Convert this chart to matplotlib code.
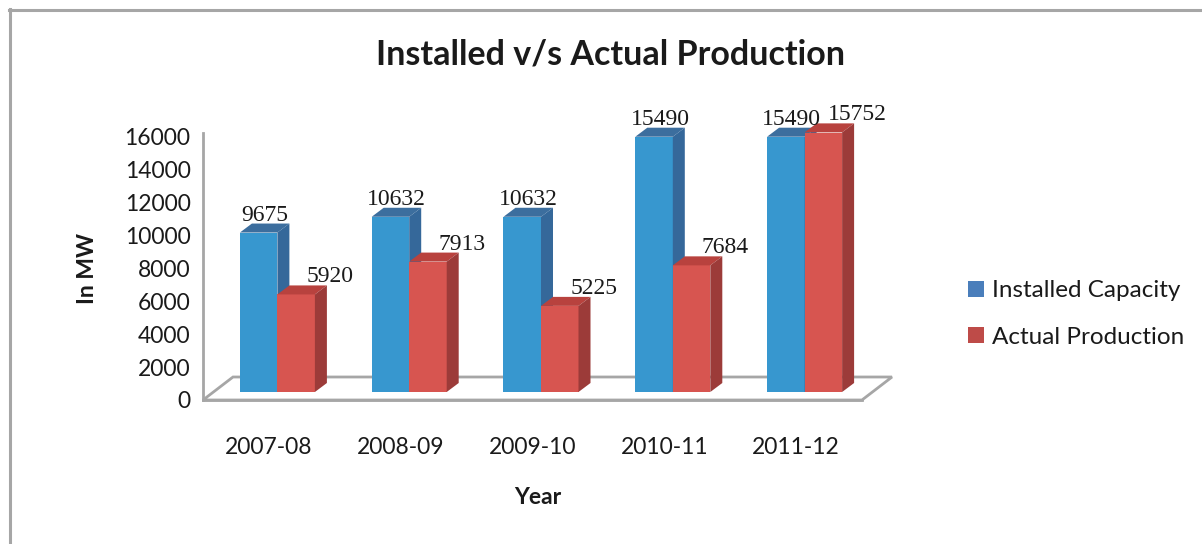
import matplotlib.pyplot as plt
from matplotlib.patches import Polygon, Patch
from matplotlib.lines import Line2D

# dane
years = ['2007-08', '2008-09', '2009-10', '2010-11', '2011-12']
installed = [9675, 10632, 10632, 15490, 15490]
actual = [5920, 7913, 5225, 7684, 15752]
series_names = ['Installed Capacity', 'Actual Production']
yticks = [0, 2000, 4000, 6000, 8000, 10000, 12000, 14000, 16000]

SANS = ['Lato', 'DejaVu Sans']
SERIF = ['Liberation Serif', 'DejaVu Serif']
plt.rcParams['font.family'] = SANS

W, H = 1202, 544
fig = plt.figure(figsize=(W / 100, H / 100), dpi=100)
ax = fig.add_axes([203 / W, (H - 400) / H, 659 / W, 267 / H])
ax.set_xlim(-0.5, len(years) - 0.5)
ax.set_ylim(0, 16200)

# przeliczenie pikseli na jednostki danych
ux = (len(years)) / ax.bbox.width
uy = 16200 / ax.bbox.height

grey = '#a6a6a6'
for s in ['top', 'right']:
    ax.spines[s].set_visible(False)
for s in ['left', 'bottom']:
    ax.spines[s].set_color(grey)
    ax.spines[s].set_linewidth(2)

# podloga 3D
fdx, fdy = 30 * ux, 23 * uy
x0, x1 = ax.get_xlim()
floor = Polygon([(x0, 0), (x0 + fdx, fdy), (x1 + fdx, fdy), (x1, 0)],
                closed=True, facecolor='white', edgecolor=grey, lw=2,
                clip_on=False, zorder=1)
ax.add_patch(floor)

# slupki 3D
bw = 37.5 * ux
sx = 8.5 * ux
base = 8 * uy
ddx, ddy = 12 * ux, 9 * uy
front_cols = ['#3797cf', '#d75550']
top_cols = ['#3c6e9e', '#b8423e']
side_cols = ['#35689a', '#9c3b39']
label_dx = [6, 34]

for i in range(len(years)):
    for s, vals in enumerate([installed, actual]):
        v = vals[i]
        left = i + sx - bw + s * bw
        right = left + bw
        top = base + v
        z = 3 + s
        ax.bar(left, v, width=bw, bottom=base, align='edge',
               color=front_cols[s], zorder=z, lw=0)
        ax.add_patch(Polygon([(left, top), (right, top), (right + ddx, top + ddy),
                              (left + ddx, top + ddy)], closed=True,
                             facecolor=top_cols[s], lw=0, zorder=z, clip_on=False))
        ax.add_patch(Polygon([(right, base), (right + ddx, base + ddy),
                              (right + ddx, top + ddy), (right, top)], closed=True,
                             facecolor=side_cols[s], lw=0, zorder=z, clip_on=False))
        ax.annotate(str(v), xy=(left + bw / 2, top), xytext=(label_dx[s] * 0.72, 12 * 0.72),
                    textcoords='offset points', ha='center', va='baseline',
                    fontsize=17, family=SERIF, color='#1a1a1a', zorder=10,
                    annotation_clip=False)

ax.set_xticks(range(len(years)))
ax.set_xticklabels(years)
ax.set_yticks(yticks)
ax.set_yticklabels([str(t) for t in yticks])
ax.tick_params(axis='both', length=0, labelsize=16.5, colors='#1a1a1a')
ax.tick_params(axis='x', pad=27)
ax.tick_params(axis='y', pad=9)
ax.patch.set_alpha(0)

fig.text(611 / W, 1 - 54 / H, 'Installed v/s Actual Production', ha='center', va='center',
         fontsize=24.5, fontweight='bold', color='#1a1a1a')
fig.text(88 / W, 1 - 268 / H, 'In MW', rotation=90, ha='center', va='center',
         fontsize=16.5, fontweight='bold', color='#1a1a1a')
fig.text(538 / W, 1 - 497 / H, 'Year', ha='center', va='center',
         fontsize=16.5, fontweight='bold', color='#1a1a1a')

handles = [Patch(facecolor='#4a7ebb', edgecolor='none'),
           Patch(facecolor='#be4b48', edgecolor='none')]
fig.legend(handles, series_names, loc='center left',
           bbox_to_anchor=(946 / W, 1 - 314 / H), frameon=False, fontsize=17.5,
           handlelength=0.65, handleheight=0.65, handletextpad=0.35, labelspacing=1.05,
           labelcolor='#1a1a1a')

# ramka wykresu
fig.add_artist(Line2D([10 / W, 10 / W], [0, 1 - 9 / H], color=grey, lw=2.2,
                      transform=fig.transFigure))
fig.add_artist(Line2D([9 / W, 1], [1 - 10 / H, 1 - 10 / H], color=grey, lw=2.2,
                      transform=fig.transFigure))

fig.savefig('out.png', dpi=100)
